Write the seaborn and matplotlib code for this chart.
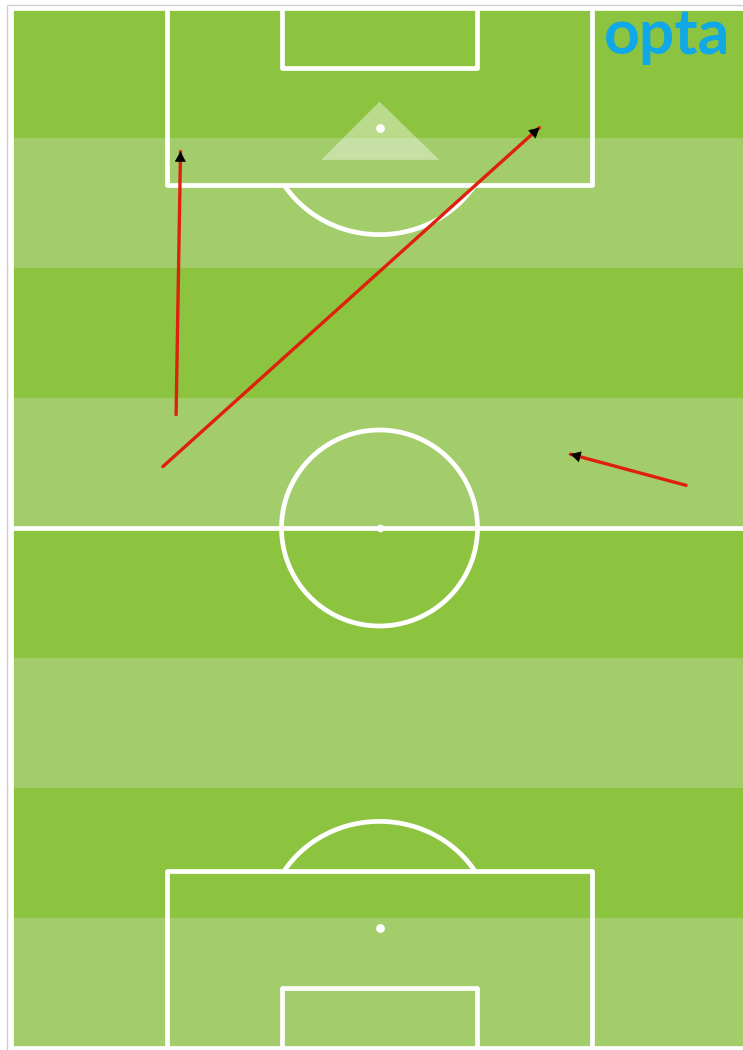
#!/usr/bin/env python3
"""Opta style pass map on a vertical pitch."""

import matplotlib.pyplot as plt
import numpy as np
import pandas as pd
import seaborn as sns
from matplotlib.patches import Polygon, Rectangle

# pass coordinates in Opta units (across 0-100 left to right, along 0-100 bottom to top)
pass_id = [1, 2, 3]
start_x = [22.4, 20.6, 91.6]
start_y = [60.9, 55.9, 54.1]
end_x = [23.0, 71.7, 75.9]
end_y = [86.2, 88.5, 57.1]

DARK = "#8cc43f"
LIGHT = "#a3cd6b"
LINE = "white"
RED = "#e0200f"
OPTA_BLUE = "#10a8e6"

W_PX, H_PX = 743, 1050
PX_U = 7.37   # pixels per unit across
PX_V = 10.4   # pixels per unit along

sns.set_theme(style="white")

fig = plt.figure(figsize=(W_PX / 100, H_PX / 100), dpi=100)
fig.patch.set_facecolor("white")
ax = fig.add_axes([0, 0, 1, 1])
ax.set_xlim(-11 / PX_U, (W_PX - 11) / PX_U)
ax.set_ylim(100 - (H_PX - 8) / PX_V, 100 + 8 / PX_V)
ax.axis("off")

# thin grey frame of the original graphic
fig.patches.append(Rectangle((7 / W_PX, -0.1), 1.2, 1 - 5 / H_PX + 0.1,
                             transform=fig.transFigure, fill=False,
                             edgecolor="#cfcfcf", lw=1, zorder=0))

# grass stripes
for i in range(8):
    ax.add_patch(Rectangle((0, i * 12.5), 100, 12.5,
                           facecolor=LIGHT if i % 2 == 0 else DARK,
                           edgecolor="none", zorder=1))

lw = 3.4
kw = dict(color=LINE, lw=lw, zorder=2, solid_capstyle="butt")

# outline and halfway line
ax.plot([0, 0, 100, 100, 0], [0, 100, 100, 0, 0], **kw)
ax.plot([0, 100], [50, 50], **kw)

# boxes
for base, sgn in [(100, -1), (0, 1)]:
    ax.plot([21.1, 21.1, 78.9, 78.9], [base, base + sgn * 17, base + sgn * 17, base], **kw)
    ax.plot([36.8, 36.8, 63.2, 63.2], [base, base + sgn * 5.8, base + sgn * 5.8, base], **kw)

# centre circle
t = np.linspace(0, 2 * np.pi, 300)
r_px = 98
ax.plot(50 + r_px / PX_U * np.cos(t), 50 + r_px / PX_V * np.sin(t), **kw)

# penalty arcs (only the part outside the box)
a_u, b_v = 113 / PX_U, 107 / PX_V
for spot, sgn in [(88.5, -1), (11.5, 1)]:
    ts = np.linspace(0, 2 * np.pi, 600)
    xs = 50 + a_u * np.cos(ts)
    ys = spot + b_v * np.sin(ts)
    edge = 83.0 if sgn < 0 else 17.0
    mask = ys <= edge if sgn < 0 else ys >= edge
    order = np.argsort(xs[mask])
    ax.plot(xs[mask][order], ys[mask][order], **kw)
    ax.scatter([50], [spot], s=40, color=LINE, zorder=3, linewidths=0)

ax.scatter([50], [50], s=30, color=LINE, zorder=3, linewidths=0)

# goal triangle
ax.add_patch(Polygon([[42.1, 85.4], [50, 91.0], [58.1, 85.4]], closed=True,
                     facecolor="white", alpha=0.4, edgecolor="none", zorder=2))

# passes
passes = pd.DataFrame({
    "pass": pass_id * 2,
    "x": start_x + end_x,
    "y": start_y + end_y,
})
sns.lineplot(data=passes, x="x", y="y", units="pass", estimator=None, sort=False,
             color=RED, lw=2.4, ax=ax, zorder=4, legend=False)
ax.set_xlabel("")
ax.set_ylabel("")

for sx, sy, ex, ey in zip(start_x, start_y, end_x, end_y):
    dx, dy = (ex - sx) * PX_U, (ey - sy) * PX_V
    n = np.hypot(dx, dy)
    back = 5
    tx = ex - dx / n * back / PX_U
    ty = ey - dy / n * back / PX_V
    ax.annotate("", xy=(ex, ey), xytext=(tx, ty),
                arrowprops=dict(arrowstyle="-|>,head_length=0.55,head_width=0.3",
                                mutation_scale=12, color="black", lw=0.5,
                                shrinkA=0, shrinkB=0),
                zorder=5)

fig.text(604 / W_PX, 1 - 54 / H_PX, "opta", color=OPTA_BLUE, fontsize=45,
         fontweight="bold", family=["Lato", "DejaVu Sans"], va="baseline", ha="left")

fig.savefig("out.png", dpi=100)
